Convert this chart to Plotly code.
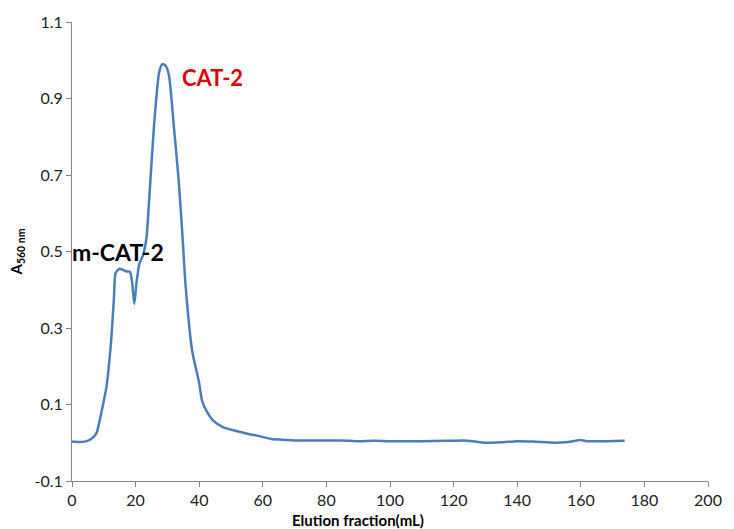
import plotly.graph_objects as go

# Elution profile: fraction volume (mL) vs absorbance at 560 nm
volume_ml = [0, 2, 4, 6, 7.7, 8.7, 10, 10.8, 12.3, 13.2, 13.7, 14.9, 16, 17, 18.2,
             18.9, 19.6, 20.3, 20.9, 21.2, 22.2, 23.4, 24.3, 25.8, 27.4, 28.4,
             29.5, 30.5, 32, 33.6, 34.9, 35.7, 37.8, 39.9, 40.9, 42.5, 44.5, 47.6,
             51, 55.5, 58.5, 62.7, 66, 71, 80, 85, 90, 95, 100, 110, 118, 123,
             126, 130, 135, 140, 145, 152, 156, 160, 162, 168, 173.8]
absorbance = [0.003, 0.002, 0.003, 0.01, 0.025, 0.058, 0.11, 0.144, 0.266, 0.38, 0.443,
              0.455, 0.452, 0.448, 0.447, 0.42, 0.363, 0.42, 0.455, 0.469, 0.487,
              0.534, 0.64, 0.83, 0.968, 0.99, 0.985, 0.96, 0.83, 0.68, 0.52,
              0.413, 0.24, 0.16, 0.11, 0.08, 0.057, 0.04, 0.032, 0.023, 0.018,
              0.01, 0.008, 0.006, 0.006, 0.006, 0.004, 0.005, 0.004, 0.004, 0.005,
              0.006, 0.004, 0.0, 0.001, 0.004, 0.003, 0.0, 0.002, 0.007, 0.004,
              0.004, 0.005]

x_ticks = [0, 20, 40, 60, 80, 100, 120, 140, 160, 180, 200]
y_ticks = [-0.1, 0.1, 0.3, 0.5, 0.7, 0.9, 1.1]

font_family = "Lato, 'Open Sans', sans-serif"
axis_color = "#868686"

fig = go.Figure()
fig.add_trace(go.Scatter(
    x=volume_ml, y=absorbance, mode="lines",
    line=dict(color="#4A7EBB", width=2.5, shape="spline", smoothing=0.6),
    hoverinfo="x+y", showlegend=False,
))

fig.add_annotation(x=0, y=0.5, xshift=-2, text="<b>m-CAT-2</b>", showarrow=False,
                   xanchor="left", yanchor="middle",
                   font=dict(family=font_family, size=23, color="#000000"))
fig.add_annotation(x=34.1, y=0.955, text="<b>CAT-2</b>", showarrow=False,
                   xanchor="left", yanchor="middle",
                   font=dict(family=font_family, size=22, color="#E00000"))

# x-axis title, placed as a paper annotation below the tick labels
fig.add_annotation(x=0.449, y=0, xref="paper", yref="paper", yshift=-39,
                   text="<b>Elution fraction(mL)</b>", showarrow=False,
                   xanchor="center", yanchor="middle",
                   font=dict(family=font_family, size=15, color="#000000"))

fig.update_layout(
    width=734, height=529,
    margin=dict(l=72, r=20, t=19, b=48),
    paper_bgcolor="white", plot_bgcolor="white",
    font=dict(family=font_family, size=16, color="#222222"),
    xaxis=dict(
        range=[0, 200], tickvals=x_ticks, ticktext=[str(v) for v in x_ticks],
        showgrid=False, zeroline=False, showline=True, linecolor=axis_color, linewidth=1,
        ticks="outside", tickcolor=axis_color, ticklen=5,
    ),
    yaxis=dict(
        range=[-0.1, 1.1], tickvals=y_ticks, ticktext=[f"{v:g}" for v in y_ticks],
        showgrid=False, zeroline=False, showline=True, linecolor=axis_color, linewidth=1,
        ticks="outside", tickcolor=axis_color, ticklen=5,
        title=dict(text="<b>A<sub>560 nm</sub></b>", standoff=8,
                   font=dict(family=font_family, size=15, color="#000000")),
    ),
)

fig.write_html("out.html")
